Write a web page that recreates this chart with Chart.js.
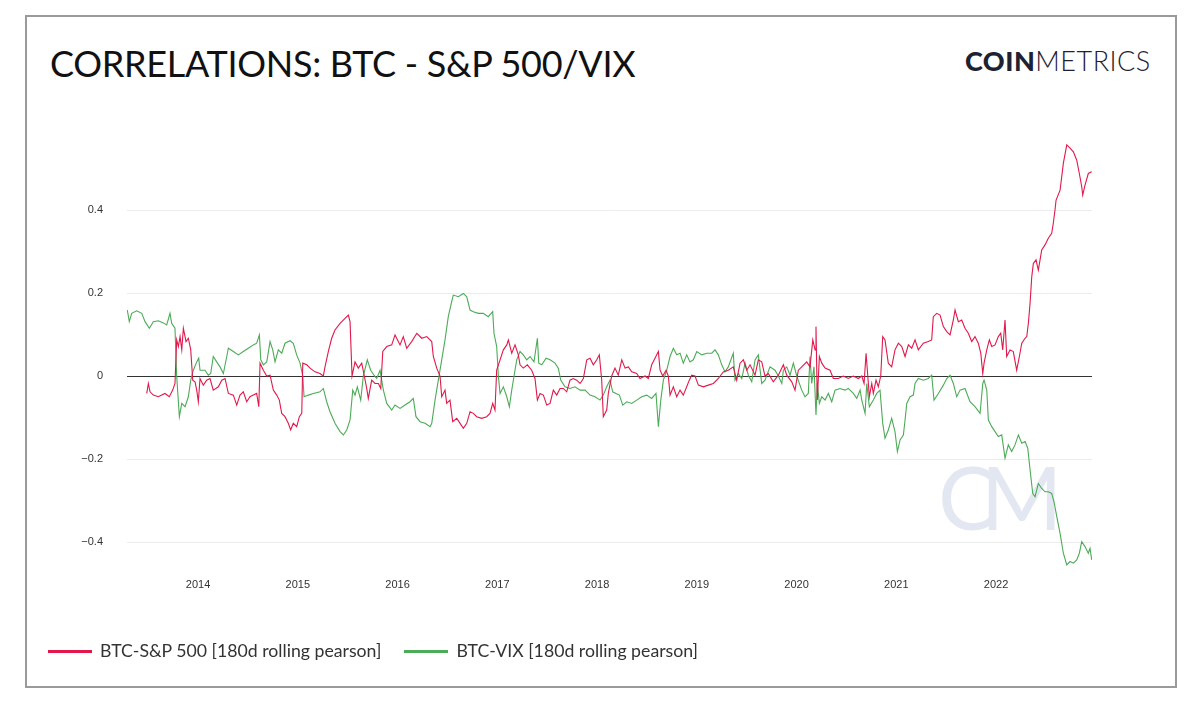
<!DOCTYPE html>
<html>
<head>
<meta charset="utf-8">
<script src="https://cdn.jsdelivr.net/npm/chart.js@4.4.0/dist/chart.umd.min.js"></script>
<style>
  html, body { margin: 0; padding: 0; background: #ffffff; width: 1200px; height: 710px; overflow: hidden; }
  #frame { position: absolute; left: 25px; top: 15px; width: 1148px; height: 669px; border: 2px solid #9a9a9a; }
  #title { position: absolute; left: 50px; top: 41px; font-family: Lato, sans-serif; font-size: 36px; color: #111; white-space: nowrap; letter-spacing: -0.3px; }
  #logo { position: absolute; left: 965px; top: 44px; font-family: Lato, sans-serif; font-size: 27px; color: #1e2131; white-space: nowrap; letter-spacing: 0.5px; }
  #logo b { font-weight: 900; }
  #logo span { font-weight: 300; }
  #wm { position: absolute; left: 938px; top: 443px; font-family: Lato, sans-serif; font-weight: 400; font-size: 88px; color: #e3e7f1; letter-spacing: -16px; white-space: nowrap; }
  #chart { position: absolute; left: 0; top: 0; }
  #legend { position: absolute; left: 48px; top: 638px; font-family: Lato, sans-serif; font-size: 17.7px; color: #333; white-space: nowrap; }
  .item { display: inline-block; vertical-align: middle; }
  .swatch { display: inline-block; width: 44px; height: 3px; vertical-align: middle; margin-right: 8px; position: relative; top: -1px; }
</style>
</head>
<body>
<div id="frame"></div>
<div id="title">CORRELATIONS: BTC - S&amp;P 500/VIX</div>
<div id="logo"><b>COIN</b><span>METRICS</span></div>
<div id="wm">CM</div>
<canvas id="chart" width="1200" height="710"></canvas>
<div id="legend"></div>
<script>
const seriesNames = ["BTC-S&P 500 [180d rolling pearson]", "BTC-VIX [180d rolling pearson]"];
const seriesColors = ["#e2174b", "#4cab57"];
const yearTicks = [2014, 2015, 2016, 2017, 2018, 2019, 2020, 2021, 2022];
const yTickValues = [-0.4, -0.2, 0, 0.2, 0.4];

const sp500Years = [2013.486,2013.502,2013.519,2013.552,2013.602,2013.636,2013.669,2013.712,2013.746,2013.769,2013.786,2013.803,2013.820,2013.837,2013.853,2013.880,2013.903,2013.927,2013.947,2013.970,2013.987,2014.003,2014.020,2014.053,2014.087,2014.120,2014.153,2014.204,2014.238,2014.271,2014.304,2014.354,2014.388,2014.421,2014.454,2014.488,2014.521,2014.554,2014.588,2014.609,2014.622,2014.655,2014.689,2014.722,2014.755,2014.789,2014.815,2014.839,2014.872,2014.905,2014.929,2014.955,2014.989,2015.016,2015.040,2015.050,2015.090,2015.123,2015.173,2015.223,2015.256,2015.273,2015.306,2015.340,2015.373,2015.424,2015.474,2015.507,2015.524,2015.544,2015.574,2015.607,2015.641,2015.667,2015.691,2015.707,2015.741,2015.774,2015.808,2015.832,2015.852,2015.892,2015.942,2015.975,2016.025,2016.058,2016.092,2016.142,2016.193,2016.243,2016.293,2016.343,2016.359,2016.393,2016.426,2016.443,2016.476,2016.493,2016.526,2016.553,2016.594,2016.627,2016.660,2016.694,2016.727,2016.760,2016.794,2016.844,2016.894,2016.927,2016.954,2016.977,2016.994,2017.028,2017.061,2017.095,2017.111,2017.145,2017.178,2017.211,2017.228,2017.261,2017.301,2017.345,2017.378,2017.402,2017.429,2017.462,2017.496,2017.529,2017.562,2017.596,2017.629,2017.662,2017.696,2017.729,2017.762,2017.796,2017.830,2017.863,2017.897,2017.930,2017.963,2017.997,2018.023,2018.047,2018.063,2018.097,2018.113,2018.147,2018.180,2018.213,2018.248,2018.281,2018.314,2018.348,2018.398,2018.431,2018.481,2018.514,2018.548,2018.581,2018.615,2018.632,2018.659,2018.692,2018.715,2018.732,2018.765,2018.799,2018.832,2018.865,2018.899,2018.925,2018.949,2018.982,2019.016,2019.066,2019.116,2019.166,2019.216,2019.266,2019.316,2019.366,2019.400,2019.434,2019.467,2019.501,2019.534,2019.584,2019.617,2019.651,2019.684,2019.717,2019.767,2019.818,2019.868,2019.902,2019.952,2019.985,2020.018,2020.052,2020.102,2020.135,2020.163,2020.186,2020.195,2020.208,2020.229,2020.253,2020.286,2020.336,2020.369,2020.419,2020.469,2020.519,2020.569,2020.620,2020.654,2020.677,2020.697,2020.710,2020.730,2020.754,2020.770,2020.797,2020.820,2020.844,2020.864,2020.887,2020.920,2020.954,2020.987,2021.021,2021.055,2021.088,2021.121,2021.155,2021.188,2021.221,2021.271,2021.321,2021.355,2021.371,2021.406,2021.439,2021.472,2021.506,2021.539,2021.572,2021.589,2021.622,2021.656,2021.689,2021.722,2021.756,2021.789,2021.822,2021.847,2021.867,2021.880,2021.907,2021.933,2021.957,2021.990,2022.023,2022.047,2022.067,2022.090,2022.107,2022.140,2022.173,2022.207,2022.234,2022.258,2022.291,2022.308,2022.324,2022.341,2022.358,2022.374,2022.401,2022.424,2022.458,2022.491,2022.524,2022.558,2022.574,2022.591,2022.602,2022.642,2022.675,2022.709,2022.742,2022.775,2022.809,2022.835,2022.859,2022.869,2022.892,2022.925,2022.959];
const sp500Values = [-0.042,-0.018,-0.038,-0.046,-0.050,-0.046,-0.042,-0.050,-0.034,-0.018,0.087,0.071,0.095,0.063,0.115,0.083,0.091,0.063,-0.010,-0.014,-0.034,-0.062,-0.006,-0.022,-0.010,-0.006,-0.034,-0.026,-0.010,-0.006,-0.042,-0.046,-0.070,-0.046,-0.038,-0.062,-0.050,-0.046,-0.042,-0.074,0.031,0.014,0.000,0.002,-0.034,-0.046,-0.058,-0.090,-0.098,-0.114,-0.130,-0.114,-0.122,-0.098,-0.090,0.031,0.027,0.019,0.010,0.006,0.000,0.022,0.059,0.091,0.111,0.127,0.139,0.147,0.131,0.000,0.034,0.019,0.031,0.000,-0.030,-0.054,-0.010,-0.018,-0.018,-0.030,0.059,0.071,0.075,0.099,0.075,0.095,0.067,0.083,0.103,0.091,0.095,0.083,0.047,0.019,0.000,-0.050,-0.034,-0.066,-0.058,-0.110,-0.102,-0.114,-0.126,-0.114,-0.086,-0.090,-0.098,-0.102,-0.098,-0.090,-0.066,-0.082,0.014,0.039,0.063,0.075,0.087,0.055,0.075,0.051,0.027,0.019,0.027,0.014,-0.006,-0.058,-0.042,-0.046,-0.070,-0.066,-0.034,-0.046,-0.030,-0.030,-0.038,-0.010,-0.006,-0.010,-0.018,-0.006,0.039,0.043,0.027,0.039,0.051,-0.010,-0.098,-0.082,-0.042,0.000,0.019,0.002,0.039,0.019,0.022,0.010,0.006,-0.006,0.000,-0.006,0.027,0.043,0.059,0.014,0.000,0.014,0.000,-0.046,-0.026,-0.050,-0.034,-0.046,-0.026,-0.010,0.002,0.000,-0.022,-0.026,-0.022,-0.018,-0.006,0.010,0.014,0.022,-0.010,0.031,0.039,0.014,0.027,0.002,0.039,0.034,0.000,0.006,-0.014,0.002,0.027,0.002,-0.014,-0.034,0.014,0.022,0.034,0.022,0.087,0.063,0.119,-0.058,0.047,0.031,0.019,0.014,-0.006,-0.006,0.000,-0.006,0.000,-0.006,0.000,-0.018,0.055,0.014,-0.050,-0.018,-0.042,-0.010,-0.026,0.000,0.095,0.087,0.031,0.022,0.063,0.079,0.071,0.047,0.075,0.067,0.087,0.063,0.079,0.083,0.087,0.143,0.151,0.147,0.119,0.107,0.099,0.135,0.159,0.131,0.135,0.115,0.103,0.083,0.095,0.079,0.055,0.006,0.031,0.063,0.087,0.071,0.075,0.095,0.103,0.063,0.135,0.047,0.063,0.059,0.014,0.047,0.079,0.091,0.095,0.127,0.175,0.239,0.271,0.280,0.255,0.304,0.316,0.332,0.344,0.368,0.400,0.424,0.448,0.513,0.557,0.549,0.540,0.520,0.488,0.456,0.436,0.460,0.488,0.492];

const vixYears = [2013.291,2013.311,2013.335,2013.385,2013.436,2013.469,2013.512,2013.552,2013.602,2013.652,2013.686,2013.719,2013.736,2013.769,2013.786,2013.813,2013.837,2013.870,2013.903,2013.927,2013.953,2013.987,2014.007,2014.020,2014.070,2014.103,2014.127,2014.153,2014.187,2014.221,2014.254,2014.288,2014.304,2014.354,2014.404,2014.454,2014.504,2014.554,2014.588,2014.615,2014.629,2014.655,2014.689,2014.722,2014.749,2014.772,2014.805,2014.839,2014.872,2014.922,2014.955,2014.989,2015.023,2015.050,2015.063,2015.106,2015.156,2015.223,2015.256,2015.290,2015.323,2015.373,2015.424,2015.457,2015.491,2015.524,2015.551,2015.574,2015.597,2015.631,2015.657,2015.697,2015.731,2015.764,2015.791,2015.825,2015.858,2015.892,2015.942,2015.975,2016.025,2016.075,2016.125,2016.158,2016.185,2016.226,2016.276,2016.326,2016.343,2016.376,2016.409,2016.443,2016.476,2016.509,2016.543,2016.559,2016.610,2016.660,2016.694,2016.727,2016.760,2016.810,2016.860,2016.910,2016.954,2016.967,2016.994,2017.011,2017.028,2017.061,2017.095,2017.121,2017.145,2017.168,2017.195,2017.228,2017.261,2017.295,2017.328,2017.368,2017.402,2017.416,2017.446,2017.489,2017.529,2017.579,2017.612,2017.636,2017.679,2017.729,2017.779,2017.830,2017.880,2017.930,2017.980,2018.030,2018.063,2018.097,2018.130,2018.157,2018.190,2018.224,2018.258,2018.298,2018.348,2018.398,2018.448,2018.498,2018.548,2018.591,2018.615,2018.639,2018.665,2018.699,2018.732,2018.765,2018.799,2018.832,2018.865,2018.899,2018.932,2018.965,2019.000,2019.050,2019.100,2019.150,2019.183,2019.216,2019.250,2019.283,2019.316,2019.366,2019.383,2019.417,2019.451,2019.484,2019.517,2019.551,2019.584,2019.617,2019.651,2019.684,2019.734,2019.784,2019.818,2019.852,2019.868,2019.902,2019.935,2019.968,2020.002,2020.052,2020.085,2020.118,2020.135,2020.152,2020.175,2020.195,2020.208,2020.229,2020.253,2020.286,2020.319,2020.353,2020.386,2020.436,2020.486,2020.519,2020.569,2020.604,2020.637,2020.654,2020.687,2020.704,2020.730,2020.770,2020.804,2020.837,2020.864,2020.887,2020.920,2020.954,2020.987,2021.011,2021.038,2021.071,2021.088,2021.105,2021.138,2021.171,2021.188,2021.221,2021.271,2021.321,2021.355,2021.378,2021.422,2021.472,2021.506,2021.539,2021.572,2021.606,2021.639,2021.689,2021.739,2021.789,2021.840,2021.867,2021.880,2021.907,2021.923,2021.957,2021.990,2022.023,2022.057,2022.090,2022.123,2022.157,2022.190,2022.224,2022.258,2022.291,2022.318,2022.341,2022.368,2022.391,2022.424,2022.458,2022.491,2022.524,2022.558,2022.581,2022.609,2022.642,2022.675,2022.709,2022.742,2022.775,2022.809,2022.835,2022.859,2022.892,2022.925,2022.942,2022.959];
const vixValues = [0.159,0.131,0.151,0.157,0.151,0.131,0.115,0.131,0.133,0.128,0.123,0.151,0.127,0.115,0.000,-0.098,-0.066,-0.074,-0.050,-0.010,0.014,0.034,0.043,0.014,0.014,0.002,0.006,0.047,0.034,0.022,0.006,0.047,0.067,0.059,0.051,0.059,0.067,0.075,0.079,0.099,0.039,0.027,0.034,0.083,0.063,0.034,0.063,0.055,0.079,0.085,0.079,0.051,0.031,0.000,-0.050,-0.046,-0.042,-0.038,-0.030,-0.062,-0.086,-0.114,-0.134,-0.142,-0.130,-0.106,-0.034,-0.046,-0.026,-0.058,0.000,0.039,0.014,0.002,-0.006,0.014,-0.034,-0.066,-0.082,-0.070,-0.078,-0.070,-0.062,-0.054,-0.098,-0.110,-0.114,-0.122,-0.114,-0.058,-0.010,0.039,0.087,0.143,0.179,0.195,0.191,0.199,0.191,0.159,0.155,0.151,0.151,0.143,0.155,0.103,0.071,0.000,-0.042,-0.026,-0.050,-0.074,-0.034,0.000,0.039,0.059,0.051,0.039,0.047,0.034,0.091,0.031,0.027,0.043,0.039,0.031,0.019,-0.010,-0.026,-0.030,-0.026,-0.034,-0.034,-0.046,-0.050,-0.058,-0.046,-0.026,-0.010,-0.038,-0.042,-0.046,-0.070,-0.062,-0.066,-0.058,-0.050,-0.046,-0.054,-0.042,-0.122,-0.058,-0.010,0.014,0.047,0.067,0.051,0.055,0.031,0.051,0.034,0.039,0.059,0.051,0.055,0.055,0.063,0.051,0.027,0.010,0.022,0.055,-0.010,0.006,-0.006,0.031,0.002,-0.014,0.039,0.051,-0.018,-0.010,0.022,0.014,0.000,-0.018,0.014,0.022,0.002,0.031,0.000,-0.034,-0.050,-0.042,0.047,-0.018,0.022,-0.094,-0.018,-0.066,-0.050,-0.058,-0.042,-0.062,-0.034,-0.030,-0.034,-0.030,-0.042,-0.054,-0.034,-0.058,-0.090,-0.018,-0.074,-0.058,-0.042,-0.034,-0.114,-0.150,-0.130,-0.102,-0.134,-0.182,-0.154,-0.142,-0.106,-0.066,-0.050,-0.046,-0.018,-0.006,-0.010,-0.006,0.002,-0.058,-0.042,-0.022,-0.006,0.002,-0.018,-0.050,-0.034,-0.030,-0.062,-0.074,-0.090,-0.018,-0.010,-0.034,-0.106,-0.122,-0.134,-0.146,-0.142,-0.198,-0.166,-0.182,-0.166,-0.142,-0.162,-0.158,-0.174,-0.226,-0.283,-0.291,-0.259,-0.271,-0.279,-0.279,-0.283,-0.303,-0.339,-0.379,-0.427,-0.455,-0.447,-0.451,-0.443,-0.427,-0.399,-0.411,-0.427,-0.415,-0.443];

function toPoints(xs, ys) { return xs.map((x, i) => ({ x: x, y: ys[i] })); }

const legendEl = document.getElementById('legend');
seriesNames.forEach((name, i) => {
  const it = document.createElement('span');
  it.className = 'item';
  if (i > 0) it.style.marginLeft = '23px';
  it.innerHTML = '<span class="swatch" style="background:' + seriesColors[i] + '"></span>';
  it.appendChild(document.createTextNode(name));
  legendEl.appendChild(it);
});

new Chart(document.getElementById('chart'), {
  type: 'line',
  data: {
    datasets: [
      { label: seriesNames[0], data: toPoints(sp500Years, sp500Values), borderColor: seriesColors[0], borderWidth: 1.1, pointRadius: 0, tension: 0, fill: false },
      { label: seriesNames[1], data: toPoints(vixYears, vixValues), borderColor: seriesColors[1], borderWidth: 1.1, pointRadius: 0, tension: 0, fill: false }
    ]
  },
  options: {
    responsive: false,
    animation: false,
    events: [],
    layout: { padding: { left: 0, top: 140, right: 108, bottom: 113 } },
    plugins: { legend: { display: false }, tooltip: { enabled: false }, title: { display: false } },
    scales: {
      x: {
        type: 'linear',
        min: 2013.288,
        max: 2022.962,
        afterBuildTicks: (s) => { s.ticks = yearTicks.map(v => ({ value: v })); },
        afterFit: (s) => { s.height = 30; },
        grid: { display: false, drawTicks: false },
        border: { display: false },
        ticks: { autoSkip: false, maxRotation: 0, padding: 11, color: '#333', font: { family: '"Liberation Sans", Arial, sans-serif', size: 11 }, callback: (v) => String(v) }
      },
      y: {
        min: -0.4602,
        max: 0.5687,
        afterBuildTicks: (s) => { s.ticks = yTickValues.map(v => ({ value: v })); },
        afterFit: (s) => { s.width = 127; },
        grid: { drawTicks: false, color: (c) => (c.tick && c.tick.value === 0 ? '#333333' : '#ececec'), lineWidth: 1 },
        border: { display: false },
        ticks: { padding: 24, color: '#333', font: { family: '"Liberation Sans", Arial, sans-serif', size: 11 },
          callback: (v) => (v === 0 ? '0' : (v < 0 ? '\u2212' + Math.abs(v).toFixed(1) : v.toFixed(1))) }
      }
    }
  }
});
</script>
</body>
</html>
